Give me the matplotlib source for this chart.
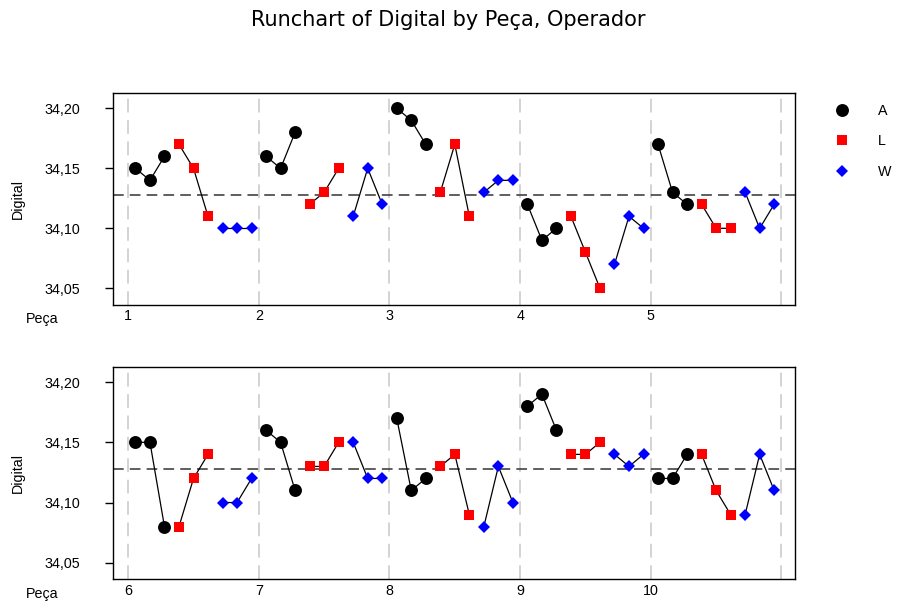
import matplotlib
matplotlib.use("Agg")
import matplotlib.pyplot as plt
from matplotlib.lines import Line2D
from matplotlib.ticker import FuncFormatter
import numpy as np

# Digital readings: one row per part (Peça), three repeats per operator
parts = list(range(1, 11))
operators = ["A", "L", "W"]

digital_A = [
    [34.15, 34.14, 34.16],
    [34.16, 34.15, 34.18],
    [34.20, 34.19, 34.17],
    [34.12, 34.09, 34.10],
    [34.17, 34.13, 34.12],
    [34.15, 34.15, 34.08],
    [34.16, 34.15, 34.11],
    [34.17, 34.11, 34.12],
    [34.18, 34.19, 34.16],
    [34.12, 34.12, 34.14],
]
digital_L = [
    [34.17, 34.15, 34.11],
    [34.12, 34.13, 34.15],
    [34.13, 34.17, 34.11],
    [34.11, 34.08, 34.05],
    [34.12, 34.10, 34.10],
    [34.08, 34.12, 34.14],
    [34.13, 34.13, 34.15],
    [34.13, 34.14, 34.09],
    [34.14, 34.14, 34.15],
    [34.14, 34.11, 34.09],
]
digital_W = [
    [34.10, 34.10, 34.10],
    [34.11, 34.15, 34.12],
    [34.13, 34.14, 34.14],
    [34.07, 34.11, 34.10],
    [34.13, 34.10, 34.12],
    [34.10, 34.10, 34.12],
    [34.15, 34.12, 34.12],
    [34.08, 34.13, 34.10],
    [34.14, 34.13, 34.14],
    [34.09, 34.14, 34.11],
]
y_ticks = [34.05, 34.10, 34.15, 34.20]

series = {"A": digital_A, "L": digital_L, "W": digital_W}
styles = {
    "A": dict(marker="o", color="black", markersize=9.3),
    "L": dict(marker="s", color="#ff0000", markersize=7.0),
    "W": dict(marker="D", color="#0000ff", markersize=6.4),
}
grand_mean = np.mean([v for op in operators for row in series[op] for v in row])

W, H = 897, 602
fig = plt.figure(figsize=(W / 100, H / 100), dpi=100)
tick_font = "Liberation Sans"
fs = 10.3


def px_axes(left, top, right, bottom):
    return fig.add_axes([left / W, 1 - bottom / H, (right - left) / W, (bottom - top) / H])


panels = [
    (px_axes(112.5, 93, 794.5, 304.5), parts[:5]),
    (px_axes(112.5, 366.7, 794.5, 579), parts[5:]),
]

n_rep = 3
slots = len(operators) * n_rep

for ax, panel_parts in panels:
    for p in panel_parts:
        for k, op in enumerate(operators):
            vals = series[op][p - 1]
            xs = [p + (k * n_rep + r + 0.5) / slots for r in range(len(vals))]
            ax.plot(xs, vals, color="black", lw=0.9, zorder=2)
            ax.plot(xs, vals, linestyle="none", markeredgewidth=0,
                    zorder=3, **styles[op])
    for p in panel_parts + [panel_parts[-1] + 1]:
        ax.axvline(p, color="#c8c8c8", lw=1.1, dashes=(9, 5), zorder=1)
    ax.axhline(grand_mean, color="#333333", lw=1.1, dashes=(7, 4), zorder=1)

    ax.set_xlim(panel_parts[0] - 0.12, panel_parts[-1] + 1.1)
    ax.set_ylim(34.0365, 34.2128)
    ax.set_xticks(panel_parts)
    ax.set_yticks(y_ticks)
    ax.yaxis.set_major_formatter(FuncFormatter(lambda v, _: f"{v:.2f}".replace(".", ",")))
    ax.tick_params(axis="x", length=0, pad=3.5, labelsize=fs)
    ax.tick_params(axis="y", length=5.5, width=1, pad=18, labelsize=fs)
    for lab in ax.get_xticklabels() + ax.get_yticklabels():
        lab.set_fontfamily(tick_font)
    for s in ax.spines.values():
        s.set_linewidth(1.0)

    bb = ax.get_position()
    fig.text(18 / W, (bb.y0 + bb.y1) / 2, "Digital", rotation=90, ha="center",
             va="center", fontsize=fs, family=tick_font)
    fig.text(26 / W, bb.y0 - 19 / H, "Peça", ha="left", va="baseline",
             fontsize=fs, family=tick_font)

fig.text(0.5, 1 - 20 / H, "Runchart of Digital by Peça, Operador", ha="center",
         va="center", fontsize=15, family="DejaVu Sans")

handles = [Line2D([], [], linestyle="none", markeredgewidth=0, **styles[op]) for op in operators]
fig.legend(handles, operators, loc="upper left", bbox_to_anchor=(835 / W, 1 - 104 / H),
           frameon=False, borderpad=0, borderaxespad=0, handlelength=1.0,
           handletextpad=2.0, labelspacing=1.15, numpoints=1,
           prop={"family": tick_font, "size": fs})

fig.savefig("out.png", dpi=100)
